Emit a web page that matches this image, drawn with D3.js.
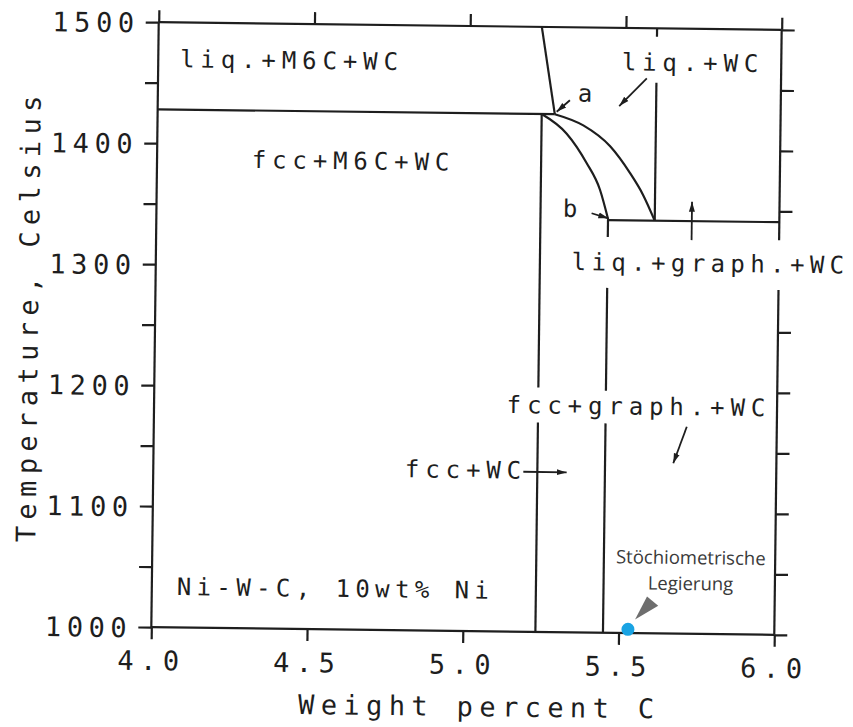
<!DOCTYPE html>
<html>
<head>
<meta charset="utf-8">
<script src="https://cdn.jsdelivr.net/npm/d3@7"></script>
<style>
body { margin: 0; background: #fff; }
svg text { font-family: "DejaVu Sans Mono", monospace; fill: #1e1e1e; }
.tick line, .bound { stroke: #1e1e1e; stroke-width: 2.2; fill: none; }
.note { font-family: "Open Sans", sans-serif !important; fill: #3a3a3a !important; }
</style>
</head>
<body>
<svg id="chart" width="853" height="727"></svg>
<script>
// axis values
var xTicks = [4.0, 4.5, 5.0, 5.5, 6.0];
var yTicks = d3.range(1000, 1501, 50);
var rightTicks = yTicks.filter(function(t){ return t !== 1300; });

// phase boundaries, [wt% C, Celsius]
var liqSolidus = [[4.0, 1428], [5.275, 1428]];
var slantLine = [[5.23, 1500], [5.275, 1428]];
var fccLimit1 = [[5.233, 1428], [5.233, 1202]];
var fccLimit2 = [[5.233, 1173], [5.233, 1000]];
var curveA = [[5.275, 1428], [5.367, 1419], [5.454, 1402], [5.519, 1380], [5.562, 1362], [5.60, 1341]];
var curveB = [[5.233, 1428], [5.314, 1412], [5.379, 1388], [5.423, 1366], [5.451, 1341]];
var graphSolidus = [[5.45, 1341], [6.0, 1341]];
var wcLineTop = [[5.60, 1500], [5.60, 1493]];
var wcLine = [[5.60, 1455], [5.60, 1341]];
var graphLine1 = [[5.45, 1341], [5.45, 1327]];
var graphLine2 = [[5.45, 1285], [5.45, 1200]];
var graphLine3 = [[5.45, 1173], [5.45, 1000]];

var frameLines = [
	[[4.0, 1000], [4.0, 1500]],
	[[4.0, 1000], [6.0, 1000]],
	[[4.0, 1500], [6.0, 1500]],
	[[6.0, 1500], [6.0, 1326]],
	[[6.0, 1285], [6.0, 1000]]
];

// region labels, anchored at [wt% C, Celsius]
var regionLabels = [
	{text: "liq.+M6C+WC", at: [4.070, 1463]},
	{text: "fcc+M6C+WC", at: [4.304, 1380.5]},
	{text: "liq.+WC", at: [5.488, 1465]},
	{text: "a", at: [5.348, 1438.6]},
	{text: "b", at: [5.305, 1343.4]},
	{text: "liq.+graph.+WC", at: [5.335, 1299.4]},
	{text: "fcc+graph.+WC", at: [5.132, 1180.6]},
	{text: "fcc+WC", at: [4.808, 1126.4]},
	{text: "Ni-W-C, 10wt% Ni", at: [4.080, 1026.9]}
];

// arrows, [tail, tip]
var arrows = [
	[[5.323, 1439.7], [5.281, 1430]],
	[[5.397, 1346.5], [5.451, 1342.5]],
	[[5.569, 1458.6], [5.4815, 1435.4]],
	[[5.719, 1325.3], [5.719, 1357]],
	[[5.711, 1171], [5.669, 1140.7]],
	[[5.188, 1132.2], [5.327, 1132.1]]
];

var alloy = [5.53, 1003];

var svg = d3.select("#chart");

svg.append("defs").append("marker")
	.attr("id", "head")
	.attr("markerUnits", "userSpaceOnUse")
	.attr("viewBox", "0 -4 10 8")
	.attr("markerWidth", 10)
	.attr("markerHeight", 8)
	.attr("refX", 10)
	.attr("refY", 0)
	.attr("orient", "auto")
	.append("path")
	.attr("d", "M0,-3L10,0L0,3Z")
	.attr("fill", "#1e1e1e");

var x = d3.scaleLinear().domain([4.0, 6.0]).range([155, 778]);
var y = d3.scaleLinear().domain([1000, 1500]).range([631, 26]);

// the scanned original sits slightly skewed
var g = svg.append("g").attr("transform", "rotate(0.7, 466.5, 328.6)");

var line = d3.line()
	.x(function(d){ return x(d[0]); })
	.y(function(d){ return y(d[1]); });

g.append("g")
	.attr("transform", "translate(" + x(4.0) + ",0)")
	.call(d3.axisLeft(y).tickValues(yTicks).tickSize(13)
		.tickFormat(function(d){ return d % 100 === 0 ? d : ""; }))
	.call(function(a){ a.select(".domain").remove(); })
	.selectAll("text")
	.attr("x", -19)
	.attr("dy", "0.36em")
	.style("font-size", "27px")
	.style("letter-spacing", "5.6px");

g.append("g")
	.attr("transform", "translate(" + x(6.0) + ",0)")
	.call(d3.axisRight(y).tickValues(rightTicks).tickSize(13).tickFormat(""))
	.call(function(a){ a.select(".domain").remove(); });

g.append("g")
	.attr("transform", "translate(0," + y(1000) + ")")
	.call(d3.axisBottom(x).tickValues(xTicks).tickSize(12).tickFormat(d3.format(".1f")))
	.call(function(a){ a.select(".domain").remove(); })
	.selectAll("text")
	.attr("y", 43)
	.attr("dy", null)
	.style("font-size", "27px")
	.style("letter-spacing", "6.5px");

g.append("g")
	.attr("transform", "translate(0," + y(1500) + ")")
	.call(d3.axisTop(x).tickValues(xTicks).tickSize(12).tickFormat(""))
	.call(function(a){ a.select(".domain").remove(); });

g.selectAll("path.frame")
	.data(frameLines)
	.enter()
	.append("path")
	.attr("class", "bound frame")
	.attr("d", line);

var straight = [liqSolidus, slantLine, fccLimit1, fccLimit2, graphSolidus, wcLineTop, wcLine, graphLine1, graphLine2, graphLine3];

g.selectAll("path.phase")
	.data(straight)
	.enter()
	.append("path")
	.attr("class", "bound phase")
	.attr("d", line);

g.selectAll("path.curve")
	.data([curveA, curveB])
	.enter()
	.append("path")
	.attr("class", "bound curve")
	.attr("d", line.curve(d3.curveMonotoneX));

line.curve(d3.curveLinear);

g.selectAll("path.arrow")
	.data(arrows)
	.enter()
	.append("path")
	.attr("class", "bound arrow")
	.style("stroke-width", 1.8)
	.attr("marker-end", "url(#head)")
	.attr("d", line);

g.selectAll("text.region")
	.data(regionLabels)
	.enter()
	.append("text")
	.attr("class", "region")
	.attr("x", function(d){ return x(d.at[0]); })
	.attr("y", function(d){ return y(d.at[1]); })
	.style("font-size", "24px")
	.style("letter-spacing", function(d){ return d.text.length > 13 ? "5.4px" : "5.9px"; })
	.text(function(d){ return d.text; });

g.append("text")
	.attr("x", 484)
	.attr("y", 716)
	.attr("text-anchor", "middle")
	.style("font-size", "27px")
	.style("letter-spacing", "6.4px")
	.text("Weight percent C");

g.append("text")
	.attr("transform", "translate(38,321) rotate(-90)")
	.attr("text-anchor", "middle")
	.style("font-size", "27px")
	.style("letter-spacing", "6.4px")
	.text("Temperature, Celsius");

// stoichiometric alloy marker
var ax = x(alloy[0]), ay = y(alloy[1]);

g.append("path")
	.attr("d", "M" + (ax + 7) + "," + (ay - 10) + "L" + (ax + 18.7) + "," + (ay - 33) + "L" + (ax + 30) + "," + (ay - 24) + "Z")
	.attr("fill", "#6e6e6e");

g.append("circle")
	.attr("cx", ax)
	.attr("cy", ay)
	.attr("r", 6.5)
	.attr("fill", "#19a3e3");

g.append("text")
	.attr("class", "note")
	.attr("x", ax + 62)
	.attr("y", ay - 66)
	.attr("text-anchor", "middle")
	.style("font-size", "18.5px")
	.text("Stöchiometrische");

g.append("text")
	.attr("class", "note")
	.attr("x", ax + 62)
	.attr("y", ay - 40)
	.attr("text-anchor", "middle")
	.style("font-size", "18.5px")
	.text("Legierung");
</script>
</body>
</html>
